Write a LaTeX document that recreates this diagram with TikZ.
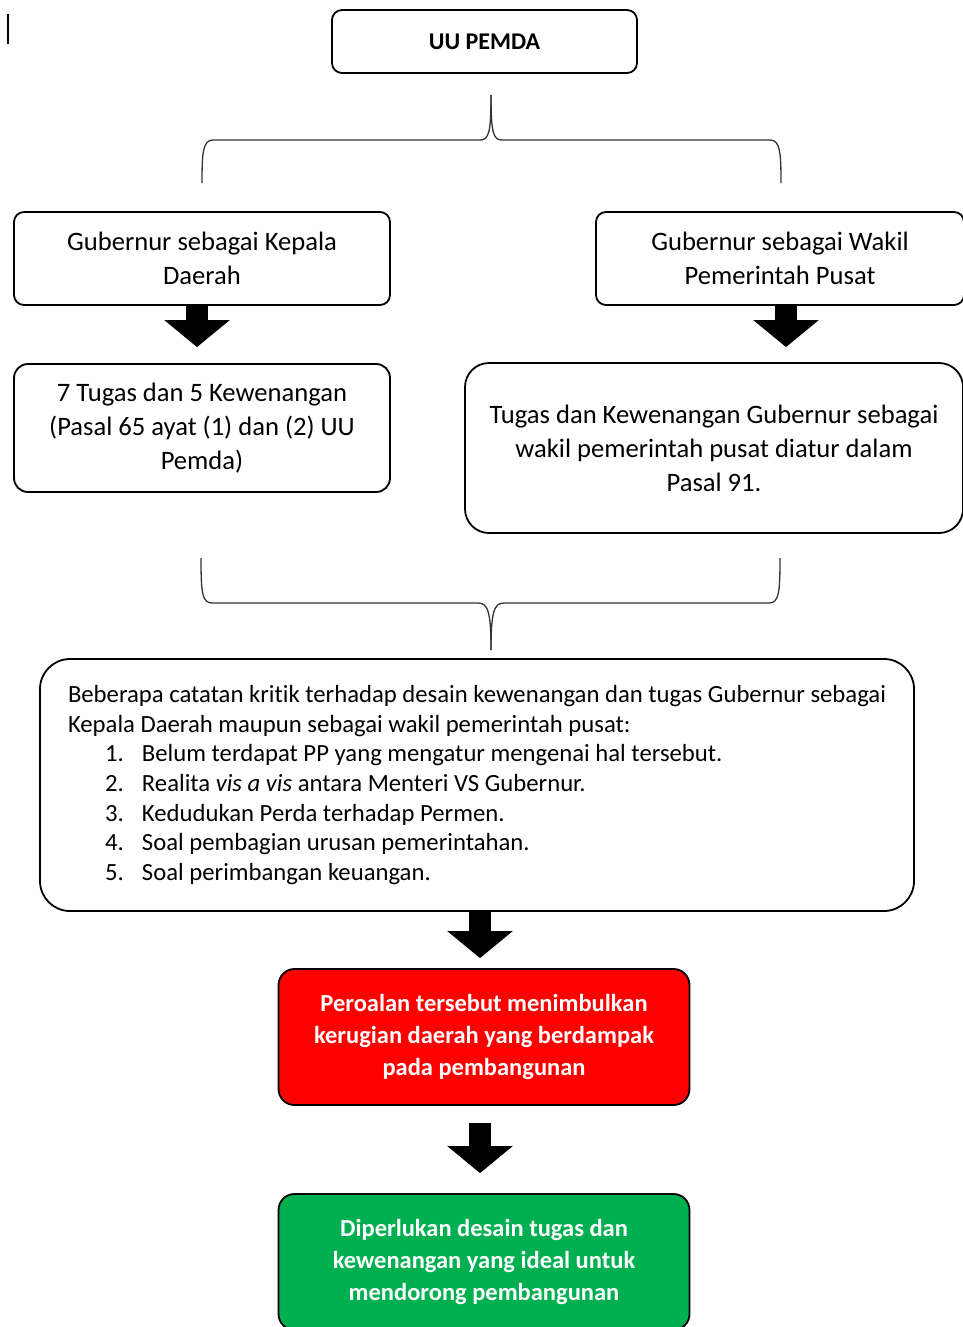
\documentclass[tikz,border=0pt]{standalone}
\usepackage{fontspec}
\setmainfont{Carlito}[Ligatures=NoCommon]
\usetikzlibrary{arrows.meta}
\definecolor{kotakmerah}{RGB}{255,0,0}
\definecolor{kotakhijau}{RGB}{0,176,80}

\begin{document}
\begin{tikzpicture}[x=1pt, y=-1pt,
    kotak/.style={draw, line width=1.8pt, rounded corners=10pt, align=center, inner sep=0pt,
      font=\fontsize{26.6}{34}\selectfont},
    tebal/.style={kotak, rounded corners=16pt, text=white, font=\fontsize{24.5}{32}\selectfont\bfseries},
    panah/.style={line width=22pt, -{Triangle[length=27pt, width=64pt]}},
    kurung/.style={line width=1.3pt, black!80}]
    \useasboundingbox (0,0) rectangle (963,1327);
    \clip (0,0) rectangle (963,1327);

    \draw [line width=1.2pt] (8,14) -- (8,44);

    \node [kotak, minimum width=305pt, minimum height=63pt, font=\fontsize{24}{28}\selectfont\bfseries] (uu) at (484.5,41.5) {UU PEMDA};

    \node [kotak, minimum width=376pt, minimum height=93pt] (kepala) at (202,258.5) {Gubernur sebagai Kepala\\Daerah};
    \node [kotak, minimum width=368pt, minimum height=93pt] (wakil) at (780,258.5) {Gubernur sebagai Wakil\\Pemerintah Pusat};

    \node [kotak, rounded corners=14pt, minimum width=376pt, minimum height=128pt] (tugaskd) at (202,428) {7 Tugas dan 5 Kewenangan\\(Pasal 65 ayat (1) dan (2) UU\\Pemda)};
    \node [kotak, rounded corners=24pt, minimum width=498pt, minimum height=170pt] (tugaswp) at (714,448) {Tugas dan Kewenangan Gubernur sebagai\\wakil pemerintah pusat diatur dalam\\Pasal 91.};

    \node [kotak, rounded corners=30pt, align=left, text width=818pt, inner xsep=28pt, minimum height=252pt,
      font=\fontsize{24.7}{29.7}\selectfont] (kritik) at (477,785)
      {\spaceskip=0pt \xspaceskip=0pt
       \mbox{Beberapa catatan kritik terhadap desain kewenangan dan tugas Gubernur sebagai}\\
       Kepala Daerah maupun sebagai wakil pemerintah pusat:\\
       \hspace*{37pt}\makebox[37pt][l]{1.}Belum terdapat PP yang mengatur mengenai hal tersebut.\\
       \hspace*{37pt}\makebox[37pt][l]{2.}Realita \textit{vis a vis} antara Menteri VS Gubernur.\\
       \hspace*{37pt}\makebox[37pt][l]{3.}Kedudukan Perda terhadap Permen.\\
       \hspace*{37pt}\makebox[37pt][l]{4.}Soal pembagian urusan pemerintahan.\\
       \hspace*{37pt}\makebox[37pt][l]{5.}Soal perimbangan keuangan.};

    \node [tebal, fill=kotakmerah, minimum width=411pt, minimum height=136pt] (akibat) at (484,1037) {Peroalan tersebut menimbulkan\\kerugian daerah yang berdampak\\pada pembangunan};
    \node [tebal, fill=kotakhijau, minimum width=411pt, minimum height=136pt] (solusi) at (484,1262) {Diperlukan desain tugas dan\\kewenangan yang ideal untuk\\mendorong pembangunan};

    % kurung atas
    \coordinate (ka) at (491,95);
    \coordinate (ka1) at (202,183);
    \coordinate (ka2) at (781,183);
    \draw [kurung] (ka1) .. controls (202,152) and (203,140) .. (213,140) -- (480,140) .. controls (489,140) and (491,132) .. (ka);
    \draw [kurung] (ka2) .. controls (781,152) and (780,140) .. (770,140) -- (502,140) .. controls (493,140) and (491,132) .. (ka);

    % kurung bawah
    \coordinate (kb) at (491,650);
    \coordinate (kb1) at (201,558);
    \coordinate (kb2) at (780,558);
    \draw [kurung] (kb1) .. controls (201,592) and (202,603) .. (212,603) -- (478,603) .. controls (488,603) and (491,612) .. (kb);
    \draw [kurung] (kb2) .. controls (780,592) and (779,603) .. (769,603) -- (504,603) .. controls (494,603) and (491,612) .. (kb);

    % panah
    \draw [panah, shorten >=16pt] ([xshift=-5pt]kepala.south) -- ([xshift=-5pt]tugaskd.north);
    \draw [panah, shorten >=15pt] ([xshift=6pt]wakil.south) -- ([xshift=72pt]tugaswp.north);
    \draw [panah, shorten >=10pt] ([xshift=3pt]kritik.south) -- ([xshift=-4pt]akibat.north);
    \draw [panah, shorten <=17pt, shorten >=20pt] ([xshift=-4pt]akibat.south) -- ([xshift=-4pt]solusi.north);
\end{tikzpicture}
\end{document}
